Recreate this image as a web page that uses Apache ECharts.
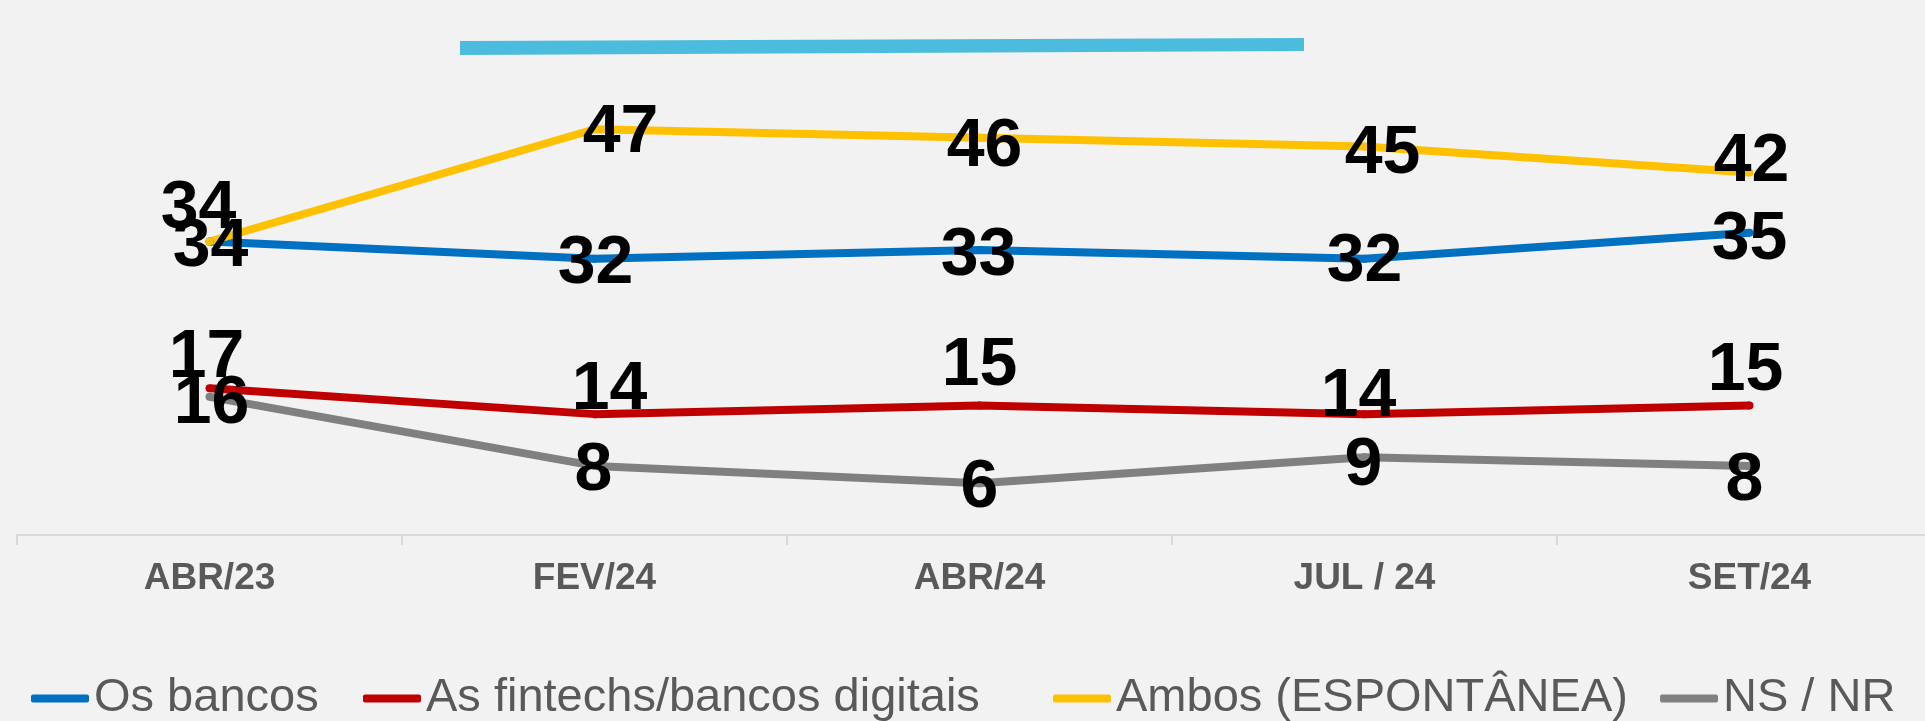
<!DOCTYPE html>
<html>
<head>
<meta charset="utf-8">
<script src="https://cdn.jsdelivr.net/npm/echarts@6/dist/echarts.min.js"></script>
<style>
  html, body { margin: 0; padding: 0; background: #F2F2F2; overflow: hidden; }
  #main { width: 1942px; height: 721px; }
</style>
</head>
<body>
<div id="main"></div>
<script>
// dados
var categorias = ['ABR/23', 'FEV/24', 'ABR/24', 'JUL / 24', 'SET/24'];
var nomes = ['Os bancos', 'As fintechs/bancos digitais', 'Ambos (ESPONTÂNEA)', 'NS / NR'];
var osBancos = [34, 32, 33, 32, 35];
var fintechs = [17, 14, 15, 14, 15];
var ambos = [34, 47, 46, 45, 42];
var nsnr = [16, 8, 6, 9, 8];

// deslocamento dos rótulos (px), como no original
var offBancos = [[1, 1], [1, 1], [-1, 1], [0, -1], [0, 2]];
var offFintechs = [[-3, -35], [15, -29], [0, -44], [-6, -22], [-4, -39]];
var offAmbos = [[-11, -37], [26, -1], [5, 4], [18, 3], [2, -15]];
var offNsnr = [[2, 2], [-1, 0], [0, 0], [-1, 4], [-5, 10]];

var cores = ['#0070C0', '#C00000', '#FFC000', '#808080'];
var legendaX = [31, 363, 1053, 1660];

function montaDados(valores, offs) {
    var d = [];
    for (var i = 0; i < valores.length; i++) {
        d.push({ value: valores[i], label: { offset: [offs[i][0], offs[i][1] + 5] } });
    }
    return d;
}

function serie(nome, valores, offs, cor) {
    return {
        name: nome,
        type: 'line',
        data: montaDados(valores, offs),
        symbol: 'circle',
        symbolSize: 8,
        lineStyle: { color: cor, width: 8 },
        itemStyle: { color: cor },
        label: {
            show: true,
            position: 'inside',
            color: '#000',
            fontFamily: 'Liberation Sans',
            fontWeight: 'bold',
            fontSize: 68
        },
        emphasis: { disabled: true },
        animation: false
    };
}

var legendas = [];
for (var k = 0; k < nomes.length; k++) {
    legendas.push({
        data: [nomes[k]],
        left: legendaX[k],
        top: 675,
        padding: 0,
        icon: 'roundRect',
        itemWidth: 58,
        itemHeight: 8,
        textStyle: { color: '#595959', fontSize: 47, fontFamily: 'Liberation Sans' }
    });
}

var myChart = echarts.init(document.getElementById('main'));
var option = {
    backgroundColor: '#F2F2F2',
    color: cores,
    graphic: [
        {
            type: 'polygon',
            shape: { points: [[460, 41], [1304, 38], [1304, 51], [460, 55]] },
            style: { fill: '#4BBCDD' }
        }
    ],
    grid: { left: 17, top: 17, right: 0, height: 518, containLabel: false },
    legend: legendas,
    xAxis: {
        type: 'category',
        data: categorias,
        boundaryGap: true,
        axisLine: { lineStyle: { color: '#D9D9D9', width: 2 } },
        axisTick: { show: true, length: 10, lineStyle: { color: '#D9D9D9', width: 2 } },
        axisLabel: {
            color: '#595959',
            fontFamily: 'Liberation Sans',
            fontWeight: 'bold',
            fontSize: 37,
            margin: 25
        }
    },
    yAxis: {
        type: 'value',
        min: 0,
        max: 60,
        show: false,
        splitLine: { show: false }
    },
    series: [
        serie(nomes[0], osBancos, offBancos, cores[0]),
        serie(nomes[1], fintechs, offFintechs, cores[1]),
        serie(nomes[2], ambos, offAmbos, cores[2]),
        serie(nomes[3], nsnr, offNsnr, cores[3])
    ]
};
myChart.setOption(option);
</script>
</body>
</html>
